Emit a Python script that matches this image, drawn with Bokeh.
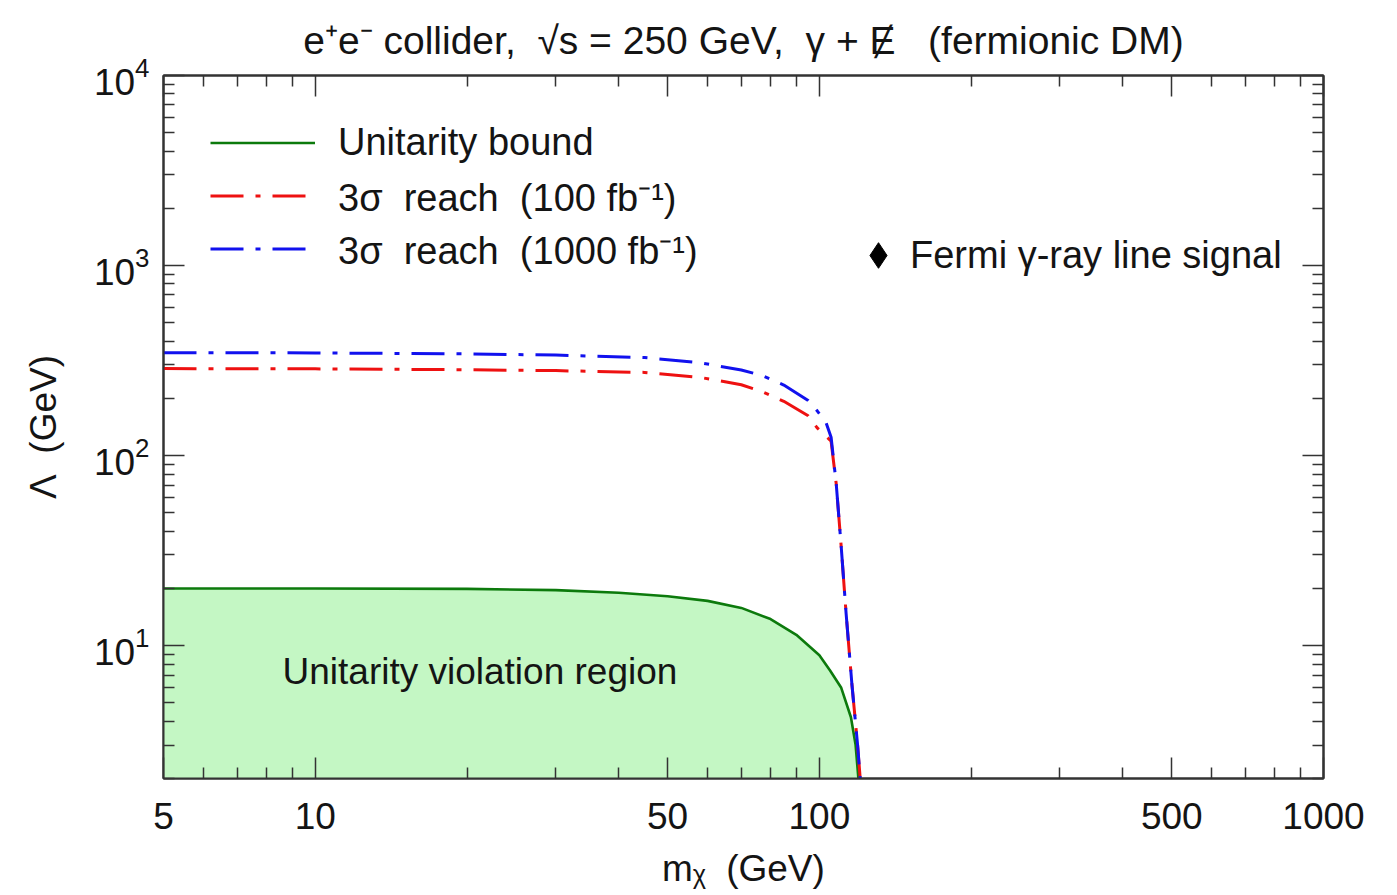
import math
from bokeh.plotting import figure
from bokeh.models import (Range1d, LogAxis, FixedTicker, Label, Legend, LegendItem,
                          CustomJSTickFormatter, PrintfTickFormatter)
from bokeh.embed import file_html
from bokeh.resources import INLINE

# ---------------- data ----------------
m_unit = [5, 10, 20, 30, 40, 50, 60, 70, 80, 90, 100, 105, 110.5, 115.5, 118, 119.5]
lam_unit = [20.0, 20.0, 19.9, 19.6, 19.0, 18.2, 17.2, 15.8, 13.8, 11.4, 8.9, 7.4, 6.0, 4.2, 3.0, 2.0]

m_reach = [5, 10, 20, 30, 45, 58, 70, 77, 85, 95, 99, 103, 105.5, 108, 110.5, 113, 116, 119, 120.5]
lam_100 = [287, 286, 283, 280, 274, 258, 236, 217, 193, 162, 140, 127, 119, 71, 33, 14.7, 6.3, 3.05, 2.0]
lam_1000 = [348, 347, 343, 338, 328, 308, 282, 264, 235, 195, 172, 150, 125, 71, 33, 14.7, 6.3, 3.05, 2.0]

# Fermi line point: m = 130 GeV, lies below the plotted Lambda range (not visible in the panel)
fermi_m = [130]
fermi_lam = [1.0]

x_major = [5, 10, 50, 100, 500, 1000]
x_minor = [6, 7, 8, 9, 20, 30, 40, 60, 70, 80, 90, 200, 300, 400, 600, 700, 800, 900]
y_major = [10, 100, 1000, 10000]
y_minor = [2, 3, 4, 5, 6, 7, 8, 9, 20, 30, 40, 50, 60, 70, 80, 90,
           200, 300, 400, 500, 600, 700, 800, 900, 2000, 3000, 4000, 5000, 6000, 7000, 8000, 9000]

NB = "\u00a0"
labels_legend = ["Unitarity bound", "3σ  reach  (100 fb⁻¹)", "3σ  reach  (1000 fb⁻¹)"]
label_fermi = "Fermi γ-ray line signal"
title_text = f"e⁺e⁻ collider,{NB}{NB}√s = 250 GeV,{NB}{NB}γ + Ɇ{NB}{NB}{NB}(fermionic DM)"
x_title = f"mᵪ{NB}{NB}(GeV)"
y_title = f"Λ{NB}{NB}(GeV)"
region_text = "Unitarity violation region"

# ---------------- style ----------------
FONT = "Liberation Sans"
TXT = "#141414"
AX = "#333333"
FL, FT, FW, FH = 163, 75, 1160, 703
XMIN, XMAX, YMIN, YMAX = 5, 1000, 2, 10000

p = figure(width=1397, height=895, x_axis_type="log", y_axis_type="log",
           x_range=Range1d(XMIN, XMAX), y_range=Range1d(YMIN, YMAX),
           output_backend="svg", toolbar_location=None,
           min_border_left=FL, min_border_right=1397 - FL - FW,
           min_border_top=FT, min_border_bottom=895 - FT - FH)
p.grid.visible = False
p.outline_line_color = AX
p.outline_line_width = 2
p.background_fill_color = "white"
p.border_fill_color = "white"

p.title.text = title_text
p.title.align = "center"
p.title.text_font = FONT
p.title.text_font_size = "39px"
p.title.text_font_style = "normal"
p.title.text_color = TXT
p.title.standoff = 28

xt = FixedTicker(ticks=x_major, minor_ticks=x_minor)
yt = FixedTicker(ticks=y_major, minor_ticks=y_minor)


def style_axis(ax, size="37px"):
    ax.major_tick_in = 21
    ax.major_tick_out = 0
    ax.minor_tick_in = 11
    ax.minor_tick_out = 0
    ax.axis_line_color = AX
    ax.axis_line_width = 2
    ax.major_tick_line_color = AX
    ax.minor_tick_line_color = AX
    ax.major_tick_line_width = 1.5
    ax.minor_tick_line_width = 1.5
    ax.major_label_text_font = FONT
    ax.major_label_text_font_size = size
    ax.major_label_text_color = TXT
    ax.axis_label_text_font = FONT
    ax.axis_label_text_font_size = "37px"
    ax.axis_label_text_font_style = "normal"
    ax.axis_label_text_color = TXT


xa = p.xaxis[0]
xa.ticker = xt
xa.formatter = PrintfTickFormatter(format="%d")
style_axis(xa)
xa.major_label_standoff = 24
xa.axis_label = x_title
xa.axis_label_standoff = 16

ya = p.yaxis[0]
ya.ticker = yt
style_axis(ya)
ya.major_label_standoff = 14
ya.axis_label = y_title
ya.axis_label_standoff = 27

blank = CustomJSTickFormatter(code="return ''")
top = LogAxis(ticker=xt, formatter=blank)
style_axis(top, "1px")
top.major_label_standoff = 0
right = LogAxis(ticker=yt, formatter=blank)
style_axis(right, "1px")
right.major_label_standoff = 0
p.add_layout(top, "above")
p.add_layout(right, "right")

# ---------------- glyphs ----------------
p.varea(x=m_unit, y1=[YMIN] * len(m_unit), y2=lam_unit, fill_color="#c4f7c4")
r_unit = p.line(m_unit, lam_unit, line_color="#0c7a0c", line_width=2.6)
r100 = p.line(m_reach, lam_100, line_color="#ee1111", line_width=3, line_dash="33 12 5 12")
r1000 = p.line(m_reach, lam_1000, line_color="#1111ee", line_width=3, line_dash="33 12 5 12")
r_fermi = p.scatter(fermi_m, fermi_lam, marker="diamond", size=26, color="black")

leg1 = Legend(items=[LegendItem(label=labels_legend[0], renderers=[r_unit]),
                     LegendItem(label=labels_legend[1], renderers=[r100]),
                     LegendItem(label=labels_legend[2], renderers=[r1000])],
              location=(47, 503), glyph_width=105, glyph_height=53, label_height=53,
              label_standoff=23, spacing=0, padding=0, margin=0,
              border_line_color=None, background_fill_alpha=0,
              label_text_font=FONT, label_text_font_size="38px", label_text_color=TXT)
leg2 = Legend(items=[LegendItem(label=label_fermi, renderers=[r_fermi])],
              location=(683, 491), glyph_width=64, glyph_height=64, label_height=64,
              label_standoff=0, spacing=0, padding=0, margin=0,
              border_line_color=None, background_fill_alpha=0,
              label_text_font=FONT, label_text_font_size="38px", label_text_color=TXT)
p.add_layout(leg1)
p.add_layout(leg2)

# region label (inside the frame; screen units from the frame's bottom-left corner)
p.add_layout(Label(x=282 - FL, y=FT + FH - 671, x_units="screen", y_units="screen",
                   text=region_text, text_font=FONT, text_font_size="37px",
                   text_align="left", text_baseline="middle", text_color=TXT))

open("out.html", "w").write(file_html(p, INLINE))
